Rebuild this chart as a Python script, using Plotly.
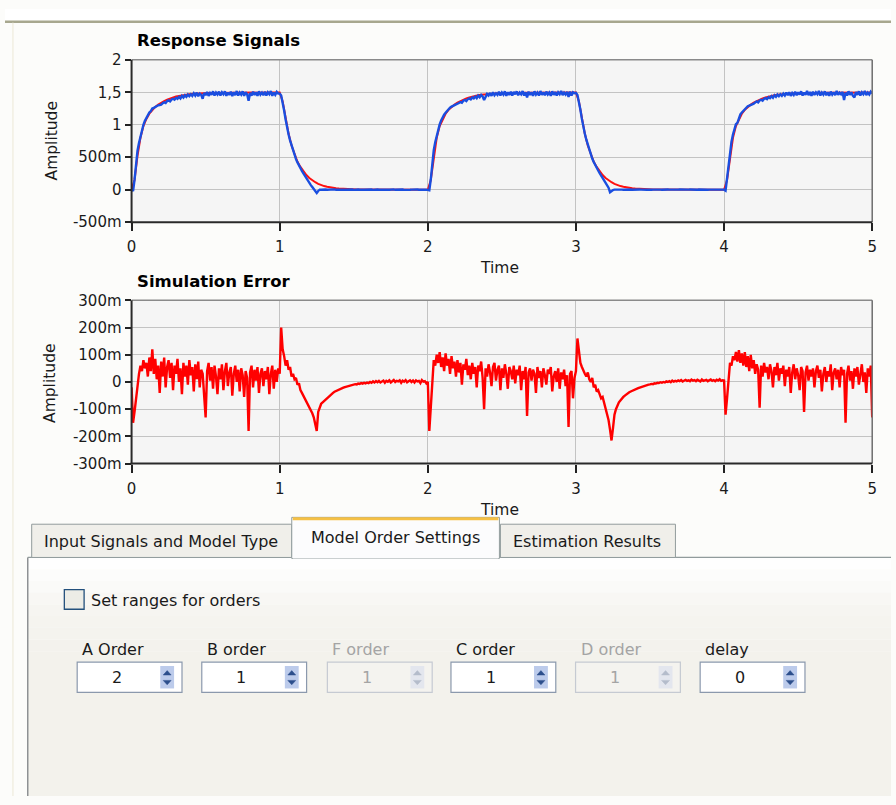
import numpy as np
import plotly.graph_objects as go

W, H = 896, 805

# ---------------- data (milli-units) ----------------
measured_mV = [
    0, -20, 150, 420, 600, 720, 830, 930, 1000, 1060,
    1110, 1150, 1190, 1210, 1250, 1260, 1275, 1290, 1300, 1305,
    1310, 1330, 1345, 1335, 1365, 1375, 1360, 1390, 1400, 1385,
    1415, 1400, 1430, 1405, 1445, 1420, 1455, 1430, 1465, 1440,
    1470, 1445, 1485, 1450, 1495, 1440, 1480, 1460, 1400, 1490,
    1455, 1505, 1445, 1490, 1460, 1515, 1450, 1495, 1465, 1510,
    1450, 1500, 1470, 1515, 1445, 1495, 1460, 1510, 1440, 1500,
    1455, 1520, 1450, 1495, 1465, 1515, 1445, 1500, 1470, 1370,
    1490, 1450, 1510, 1460, 1500, 1445, 1515, 1465, 1495, 1455,
    1510, 1450, 1500, 1470, 1520, 1445, 1495, 1460, 1505, 1480,
    1480, 1450, 1350, 1220, 1080, 950, 850, 760, 680, 600,
    530, 470, 420, 370, 330, 290, 250, 210, 170, 140,
    100, 70, 40, 10, -30, -50, -20, 0, -2, 2,
    0, 3, -1, 2, 0, -3, 1, 4, -2, 0,
    2, -1, 3, 0, -2, 1, 3, -1, 0, 2,
    -3, 1, 0, 2, -1, 3, 0, -2, 1, 4,
    -1, 0, 2, -3, 1, 0, 3, -1, 2, 0,
    1, -2, 3, 0, -1, 2, 0, 4, -2, 1,
    0, 3, -1, 2, -3, 0, 1, 3, -1, 0,
    2, -1, 0, 3, -2, 1, 0, 2, -1, 0,
    0, -10, 160, 430, 610, 730, 840, 935, 1005, 1065,
    1115, 1155, 1185, 1215, 1240, 1265, 1280, 1290, 1295, 1310,
    1320, 1335, 1350, 1340, 1370, 1380, 1365, 1395, 1405, 1390,
    1420, 1405, 1435, 1410, 1450, 1425, 1460, 1435, 1380, 1445,
    1475, 1450, 1490, 1445, 1500, 1455, 1485, 1460, 1510, 1450,
    1495, 1465, 1515, 1445, 1500, 1460, 1510, 1450, 1505, 1470,
    1515, 1455, 1495, 1470, 1520, 1450, 1500, 1420, 1510, 1460,
    1500, 1445, 1515, 1465, 1495, 1450, 1520, 1460, 1500, 1455,
    1510, 1465, 1495, 1445, 1515, 1460, 1505, 1450, 1500, 1470,
    1520, 1455, 1495, 1465, 1505, 1430, 1510, 1450, 1500, 1485,
    1490, 1460, 1360, 1230, 1090, 960, 860, 770, 690, 610,
    540, 480, 425, 375, 335, 295, 255, 215, 175, 140,
    105, 70, 30, -40, -20, -5, 0, 2, -1, 0,
    3, 0, -2, 1, 2, -1, 0, 3, -2, 1,
    0, 2, -1, 3, 0, -3, 1, 2, -1, 0,
    4, -1, 0, 2, -2, 1, 3, 0, -1, 2,
    0, -2, 3, 1, -1, 0, 2, -3, 1, 0,
    2, 0, -1, 3, 1, -2, 0, 2, -1, 3,
    0, 1, -2, 2, 0, 3, -1, 0, 2, -1,
    1, 0, 3, -2, 0, 2, -1, 1, 0, 2,
    0, -15, 170, 440, 620, 740, 850, 940, 1010, 1030,
    1100, 1160, 1190, 1215, 1245, 1255, 1285, 1295, 1300, 1315,
    1325, 1340, 1360, 1345, 1375, 1385, 1370, 1400, 1410, 1395,
    1425, 1410, 1440, 1415, 1455, 1430, 1465, 1440, 1470, 1445,
    1480, 1450, 1495, 1455, 1500, 1445, 1490, 1460, 1510, 1455,
    1500, 1465, 1515, 1450, 1495, 1460, 1520, 1455, 1505, 1445,
    1510, 1460, 1500, 1470, 1520, 1450, 1495, 1465, 1515, 1455,
    1500, 1445, 1510, 1465, 1500, 1455, 1520, 1460, 1495, 1470,
    1505, 1380, 1495, 1450, 1515, 1460, 1500, 1445, 1420, 1505,
    1460, 1515, 1450, 1500, 1470, 1520, 1455, 1495, 1465, 1510,
    1480,
]

model_mV = [
    0, 150, 520, 800, 980, 1090, 1170, 1230, 1275, 1310,
    1340, 1365, 1385, 1405, 1420, 1435, 1445, 1455, 1462, 1468,
    1473, 1477, 1480, 1483, 1485, 1487, 1488, 1489, 1490, 1491,
    1492, 1492, 1493, 1493, 1494, 1494, 1494, 1495, 1495, 1495,
    1495, 1496, 1496, 1496, 1496, 1496, 1497, 1497, 1497, 1497,
    1497, 1360, 1100, 860, 680, 540, 430, 350, 280, 225,
    180, 145, 115, 90, 70, 55, 45, 35, 28, 22,
    17, 13, 10, 8, 6, 5, 4, 3, 3, 2,
    2, 2, 1, 1, 1, 1, 1, 0, 0, 0,
    0, 0, 0, 0, 0, 0, 0, 0, 0, 0,
    0, 150, 520, 800, 980, 1090, 1170, 1230, 1275, 1310,
    1340, 1365, 1385, 1405, 1420, 1435, 1445, 1455, 1462, 1468,
    1473, 1477, 1480, 1483, 1485, 1487, 1488, 1489, 1490, 1491,
    1492, 1492, 1493, 1493, 1494, 1494, 1494, 1495, 1495, 1495,
    1495, 1496, 1496, 1496, 1496, 1496, 1497, 1497, 1497, 1497,
    1497, 1360, 1100, 860, 680, 540, 430, 350, 280, 225,
    180, 145, 115, 90, 70, 55, 45, 35, 28, 22,
    17, 13, 10, 8, 6, 5, 4, 3, 3, 2,
    2, 2, 1, 1, 1, 1, 1, 0, 0, 0,
    0, 0, 0, 0, 0, 0, 0, 0, 0, 0,
    0, 150, 520, 800, 980, 1090, 1170, 1230, 1275, 1310,
    1340, 1365, 1385, 1405, 1420, 1435, 1445, 1455, 1462, 1468,
    1473, 1477, 1480, 1483, 1485, 1487, 1488, 1489, 1490, 1491,
    1492, 1492, 1493, 1493, 1494, 1494, 1494, 1495, 1495, 1495,
    1495, 1496, 1496, 1496, 1496, 1496, 1497, 1497, 1497, 1497,
    1497,
]

error_mV = [
    -20, -150, -110, -60, -10, 30, 60, 40, 80, 50,
    70, 20, 90, 40, 120, 30, 85, 10, 60, -40,
    75, 20, 90, -20, 55, 80, 15, 70, -30, 60,
    30, 85, 0, 50, -45, 70, 20, 60, -10, 80,
    25, 55, -35, 65, 10, 75, -20, 45, 30, -60,
    -130, 40, 70, 5, 55, -25, 60, 20, -45, 50,
    10, 65, -30, 40, 70, -15, 35, 55, -50, 30,
    60, 0, 45, -35, 50, 25, -55, 40, 15, -180,
    35, 60, -20, 45, 5, 55, -40, 30, 50, -15,
    40, 10, 55, -45, 30, 60, -25, 45, 0, 50,
    30, 200, 120, 95, 60, 80, 45, 55, 20, 30,
    10, 15, -10, -5, -30, -40, -50, -60, -75, -80,
    -90, -100, -115, -130, -150, -180, -110, -90, -80, -75,
    -70, -62, -58, -52, -48, -44, -40, -36, -33, -30,
    -28, -25, -23, -21, -19, -17, -15, -14, -12, -11,
    -10, -8, -9, -6, -7, -4, -6, -3, -5, -2,
    -4, 0, -3, 2, -2, 3, -1, 4, -2, 2,
    5, -3, 4, 1, 6, -2, 3, 7, 0, 4,
    2, 6, -3, 5, 1, 7, -1, 4, 6, 0,
    5, -2, 6, 2, 4, -4, 7, 1, 3, -5,
    0, -180, -90, 20, 80, 60, 100, 70, 110, 55,
    90, 40, 105, 60, 85, 30, 95, 50, 75, 20,
    80, 35, 70, -10, 65, 45, 85, 25, 60, 10,
    70, 30, 55, -20, 60, 40, 75, 15, -100, 50,
    20, 65, 35, -15, 55, 70, 5, 45, 60, -30,
    50, 15, 65, 30, -25, 55, 40, 10, 60, -5,
    45, 25, 60, -30, 40, 10, 55, -125, 35, 50,
    5, 45, 30, -40, 55, 15, 40, -20, 50, 25,
    -10, 45, 30, 55, -35, 20, 40, 0, 50, -25,
    35, 10, 45, -15, 25, -165, 30, 40, -60, 15,
    40, 160, 110, 70, 55, 40, 30, 20, 35, 10,
    0, 15, -20, -10, -35, -30, -50, -60, -55, -75,
    -90, -110, -140, -175, -215, -170, -120, -100, -85, -75,
    -68, -60, -55, -50, -45, -42, -38, -35, -32, -30,
    -28, -25, -23, -21, -19, -16, -15, -13, -12, -10,
    -9, -7, -8, -5, -6, -3, -4, -1, -3, 0,
    -2, 2, 0, 3, -1, 5, 1, 4, 2, 6,
    3, 7, 2, 5, 8, 4, 6, 3, 9, 5,
    7, 3, 8, 5, 2, 9, 4, 6, 8, 3,
    6, 9, 4, 7, 3, 8, 5, 10, 4, 6,
    5, -120, -60, 10, 70, 60, 95, 80, 110, 75,
    117, 70, 105, 60, 110, 55, 95, 40, 100, 50,
    80, 30, 65, 45, -95, 60, 20, 70, 35, 55,
    10, 65, 40, -20, 55, 25, 70, 5, 50, 30,
    60, -15, 45, 20, 55, -40, 35, 65, 10, 50,
    25, -30, 55, 40, -110, 35, 60, 5, 45, 20,
    50, -20, 40, 60, 15, 45, -35, 30, 55, 0,
    40, 20, 65, -30, 35, 50, 10, 45, -20, 55,
    25, 45, -150, 30, 60, 5, 40, -25, 50, 20,
    55, -10, 40, 65, 0, 35, -40, 50, 20, 60,
    -130,
]

time_ticks = [0, 1, 2, 3, 4, 5]
resp_tickvals = [-0.5, 0, 0.5, 1, 1.5, 2]
resp_ticktext = ["-500m", "0", "500m", "1", "1,5", "2"]
err_tickvals = [-0.3, -0.2, -0.1, 0, 0.1, 0.2, 0.3]
err_ticktext = ["-300m", "-200m", "-100m", "0", "100m", "200m", "300m"]

tab_labels = ["Input Signals and Model Type", "Model Order Settings", "Estimation Results"]
checkbox_label = "Set ranges for orders"
order_labels = ["A Order", "B order", "F order", "C order", "D order", "delay"]
order_values = ["2", "1", "1", "1", "1", "0"]
order_enabled = [True, True, False, True, False, True]

# ---------------- helpers ----------------
FONT = "DejaVu Sans"
UI = 16


def px(x):
    return x / W


def py(y):
    return 1 - y / H


shapes = []
annotations = []


def rect(x0, y0, x1, y1, fill, line="rgba(0,0,0,0)", lw=1, layer="below"):
    shapes.append(dict(type="rect", xref="paper", yref="paper",
                       x0=px(x0), x1=px(x1), y0=py(y1), y1=py(y0),
                       fillcolor=fill, line=dict(color=line, width=lw), layer=layer))


def hline(x0, x1, y, color, lw=1, layer="below"):
    shapes.append(dict(type="line", xref="paper", yref="paper",
                       x0=px(x0), x1=px(x1), y0=py(y), y1=py(y),
                       line=dict(color=color, width=lw), layer=layer))


def vline(x, y0, y1, color, lw=1, layer="below"):
    shapes.append(dict(type="line", xref="paper", yref="paper",
                       x0=px(x), x1=px(x), y0=py(y0), y1=py(y1),
                       line=dict(color=color, width=lw), layer=layer))


def tri(cx, cy, w, h, up, color):
    if up:
        pts = [(cx - w / 2, cy + h / 2), (cx + w / 2, cy + h / 2), (cx, cy - h / 2)]
    else:
        pts = [(cx - w / 2, cy - h / 2), (cx + w / 2, cy - h / 2), (cx, cy + h / 2)]
    path = "M " + " L ".join(f"{px(a):.5f},{py(b):.5f}" for a, b in pts) + " Z"
    shapes.append(dict(type="path", xref="paper", yref="paper", path=path,
                       fillcolor=color, line=dict(color=color, width=0.5), layer="above"))


def text(x, y, s, size=UI, color="#1a1a1a", anchor="center", bold=False, angle=0):
    if bold:
        s = "<b>" + s + "</b>"
    annotations.append(dict(xref="paper", yref="paper", x=px(x), y=py(y), text=s,
                            showarrow=False, xanchor=anchor, yanchor="middle",
                            textangle=angle,
                            font=dict(family=FONT, size=size, color=color)))


# ---------------- background / frame ----------------
rect(0, 0, W, 12, "#ffffff")
hline(0, W, 13, "#a7a78e", 2.5)
vline(8, 14, H, "#f1efe2", 1.5)

# tab panel with soft gradient
panel_top = 561
grad = ["#fefefe", "#fcfcfb", "#fafaf8", "#f8f7f4", "#f6f5f1", "#f5f4ef", "#f4f3ee", "#f3f2ed"]
band = 12
for i, c in enumerate(grad):
    rect(23, panel_top + i * band, W, panel_top + (i + 1) * band, c)
rect(23, panel_top + len(grad) * band, W, H, "#f3f2ec")
vline(23, panel_top, H, "#8e9194", 1.5)
hline(23, 290, panel_top, "#919b9c", 1.2)
hline(500, W, panel_top, "#919b9c", 1.2)

# tabs
rect(27, 527, 290, panel_top, "#f0efea", "#919b9c", 1)
rect(501, 527, 678, panel_top, "#f0efea", "#919b9c", 1)
rect(290, 520, 500, panel_top + 1, "#fcfcfd", "#919b9c", 1)
hline(291, 499, 521.5, "#f5c044", 3)
hline(291, 499, panel_top, "#fcfcfd", 2)
text(158, 545, tab_labels[0])
text(395, 541, tab_labels[1])
text(589, 545, tab_labels[2])

# checkbox
rect(60, 594, 80, 614, "#ecece6", "#23507c", 1.3)
text(85, 605, checkbox_label, anchor="left")

# numeric controls
box_left = [73, 199, 326, 451, 577, 703]
for left, lab, val, en in zip(box_left, order_labels, order_values, order_enabled):
    fg = "#1a1a1a" if en else "#a4a4a4"
    text(left + 3, 655, lab, color=fg, anchor="left")
    rect(left, 668, left + 106, 699, "#ffffff" if en else "#f4f3ef",
         "#8b99ad" if en else "#c5cad2", 1.2)
    text(left + 40, 684, val, color=fg)
    rect(left + 84, 672, left + 98, 695, "#bccbeb" if en else "#e3e6ee", "rgba(0,0,0,0)", 0)
    ac = "#2c4f8c" if en else "#b4bccb"
    tri(left + 91, 679, 8, 4.5, True, ac)
    tri(left + 91, 689, 8, 4.5, False, ac)

# ---------------- plots ----------------
X0, X1 = 128, 877
P1T, P1B = 52, 218
P2T, P2B = 298, 465

for top, bot in [(P1T, P1B), (P2T, P2B)]:
    hline(X0, X1, top, "#8a8a8a", 1.5, "above")
    vline(X1, top, bot, "#6e6e6e", 1.5, "above")
    vline(X0, top, bot + 1, "#2a2a2a", 2, "above")
    hline(X0 - 1, X1, bot, "#2a2a2a", 2, "above")

text(131, 32, "Response Signals", 16.5, anchor="left", bold=True, color="#000000")
text(131, 279, "Simulation Error", 16.5, anchor="left", bold=True, color="#000000")
text(500, 265, "Time", 15.5)
text(500, 512, "Time", 15.5)
text(48, 135, "Amplitude", 15.5, angle=-90)
text(46, 383, "Amplitude", 15.5, angle=-90)

t_meas = np.arange(len(measured_mV)) * 0.01
t_model = np.arange(len(model_mV)) * 0.02
t_err = np.arange(len(error_mV)) * 0.01

fig = go.Figure()
fig.add_trace(go.Scatter(x=t_model, y=np.array(model_mV) / 1000.0, mode="lines",
                         line=dict(color="#ff1010", width=2), xaxis="x", yaxis="y",
                         hoverinfo="skip", showlegend=False))
fig.add_trace(go.Scatter(x=t_meas, y=np.array(measured_mV) / 1000.0, mode="lines",
                         line=dict(color="#1a4ee0", width=2.4), xaxis="x", yaxis="y",
                         hoverinfo="skip", showlegend=False))
fig.add_trace(go.Scatter(x=t_err, y=np.array(error_mV) / 1000.0, mode="lines",
                         line=dict(color="#ff0000", width=2.4), xaxis="x2", yaxis="y2",
                         hoverinfo="skip", showlegend=False))

tickfont = dict(family=FONT, size=15, color="#1a1a1a")
common_x = dict(range=[0, 5], tickvals=time_ticks, ticks="outside", ticklen=8,
                tickwidth=1.5, tickcolor="#222222", showgrid=True, gridcolor="#c3c3c3",
                gridwidth=1, zeroline=False, showline=False, tickfont=tickfont,
                ticklabelstandoff=3, fixedrange=True)
common_y = dict(ticks="outside", ticklen=6, tickwidth=1.5, tickcolor="#222222",
                showgrid=True, gridcolor="#c3c3c3", gridwidth=1, zeroline=False,
                showline=False, tickfont=tickfont, fixedrange=True)

fig.update_layout(
    width=W, height=H,
    margin=dict(l=0, r=0, t=0, b=0),
    paper_bgcolor="#fcfcfa",
    plot_bgcolor="#f5f5f5",
    showlegend=False,
    xaxis=dict(domain=[px(X0), px(X1)], anchor="y", **common_x),
    yaxis=dict(domain=[py(P1B), py(P1T)], anchor="x", range=[-0.5, 2],
               tickvals=resp_tickvals, ticktext=resp_ticktext, **common_y),
    xaxis2=dict(domain=[px(X0), px(X1)], anchor="y2", **common_x),
    yaxis2=dict(domain=[py(P2B), py(P2T)], anchor="x2", range=[-0.3, 0.3],
                tickvals=err_tickvals, ticktext=err_ticktext, **common_y),
    shapes=shapes,
    annotations=annotations,
)

fig.write_html("out.html", config={"displayModeBar": False},
               post_script="document.body.style.margin='0';document.body.style.overflow='hidden';")
